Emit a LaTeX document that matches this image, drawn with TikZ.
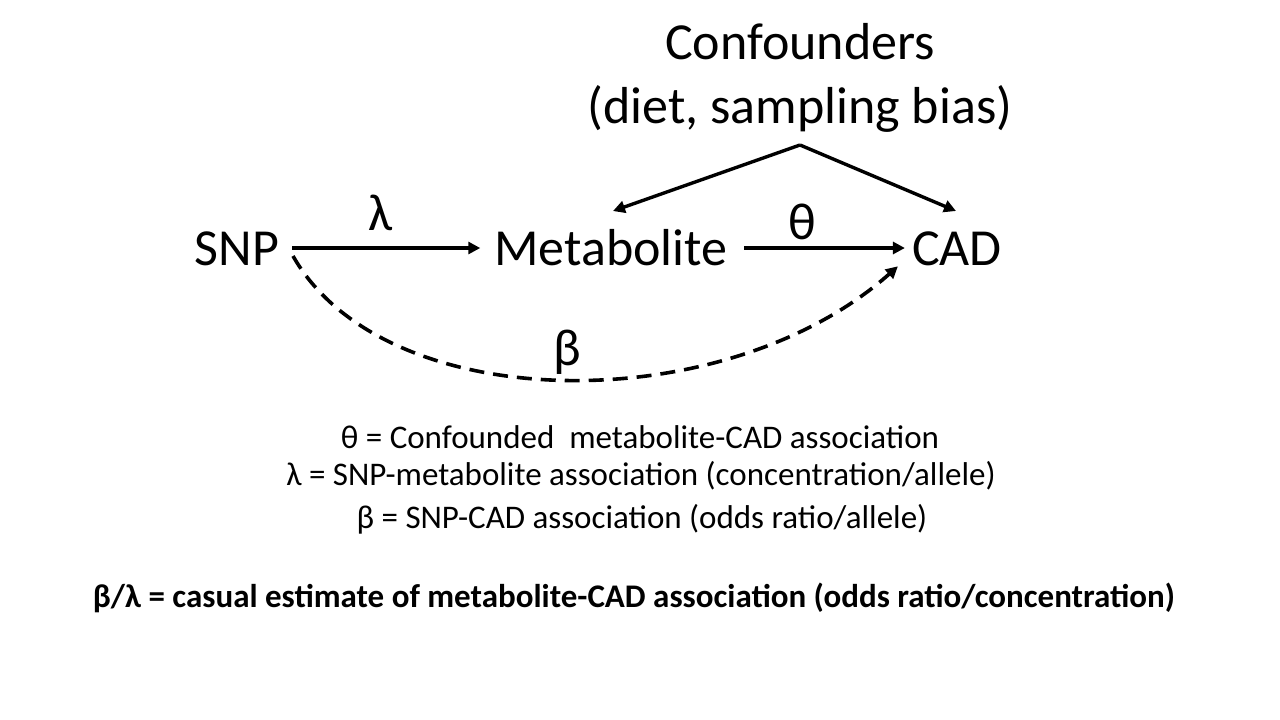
\documentclass[tikz,border=0pt]{standalone}
\usepackage{fontspec}
\setmainfont{Carlito}
\usetikzlibrary{arrows.meta}
\begin{document}
\begin{tikzpicture}[x=1pt,y=-1pt,
  big/.style={inner sep=0pt,anchor=base,font=\fontsize{52}{60}\selectfont},
  lab/.style={inner sep=0pt,font=\fontsize{52}{60}\selectfont},
  legend/.style={inner sep=0pt,font=\fontsize{33}{40}\selectfont},
  arr/.style={line width=3.4pt,-{Triangle[length=12pt,width=12pt]}},
  dasharr/.style={line width=3.6pt,dash pattern=on 15pt off 9pt,-{Triangle[length=12pt,width=12pt]}}]
\useasboundingbox (0,0) rectangle (1280,720);
\node[big] (snp) at (237,265) {SNP};
\node[big] (met) at (611,265) {Metabolite};
\node[big] (cad) at (957,265) {CAD};
\node[inner sep=0pt,align=center,font=\fontsize{52}{60}\selectfont] (conf) at (800,78) {Confounders\\[4pt](diet, sampling bias)};
\coordinate (apex) at (800,145);
\coordinate (mettop) at (613,211);
\coordinate (cadtop) at (956,211);
\node[lab] (lam) at (381,213) {λ};
\node[lab] (th) at (802,222) {θ};
\node[lab] (be) at (567,352) {β};
\coordinate (snpe) at (292,248);
\coordinate (mete) at (744,248);
\draw[arr] (snpe) -- ([xshift=-14pt]snpe -| met.west);
\draw[arr] (mete) -- ([xshift=-7pt]mete -| cad.west);
\draw[arr] (apex) -- (mettop);
\draw[arr] (apex) -- (cadtop);
\draw[dasharr] (293,256) .. controls (385,418) and (725,420) .. ([xshift=-14pt,yshift=-18pt]cad.west);
\node[legend] (l1) at (640,437) {θ = Confounded\ \ metabolite-CAD association};
\node[legend] (l2) at (641,476) {λ = SNP-metabolite association (concentration/allele)};
\node[legend] (l3) at (642,519) {β = SNP-CAD association (odds ratio/allele)};
\node[legend,font=\fontsize{33}{40}\selectfont\bfseries] (l4) at (634,598) {β/λ = casual estimate of metabolite-CAD association (odds ratio/concentration)};
\end{tikzpicture}
\end{document}
